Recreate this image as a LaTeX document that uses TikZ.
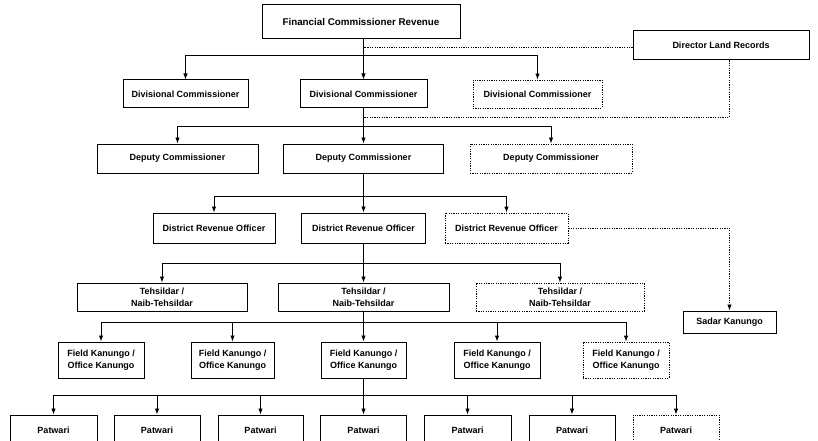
\documentclass[tikz,border=0pt]{standalone}
\usepackage{fontspec}
\setmainfont{Liberation Sans}
\usetikzlibrary{arrows.meta}
\begin{document}
\begin{tikzpicture}[x=1pt,y={(0pt,-1pt)},
  box/.style={draw, line width=1pt, align=center, inner sep=0pt,
    font=\bfseries\fontsize{9}{12}\selectfont},
  dbox/.style={box, line width=0.8pt, dash pattern=on 1.2pt off 1.2pt},
  line/.style={line width=0.9pt},
  conn/.style={line width=0.9pt, -{Latex[length=6pt,width=4.5pt]}},
  dotline/.style={line width=0.8pt, dash pattern=on 1.2pt off 1.2pt},
  dotconn/.style={dotline, -{Latex[length=6pt,width=4.5pt]}}
]
\useasboundingbox (0,0) rectangle (818,441);
\clip (0,0) rectangle (818,441);
% level 0
\node[box,minimum width=198pt,minimum height=34pt,font=\bfseries\fontsize{9.8}{12}\selectfont] (fcr) at (361,22) {Financial Commissioner Revenue};
\node[box,minimum width=176pt,minimum height=29pt] (dlr) at (721,45.5) {Director Land Records};
% level 1
\node[box,minimum width=125pt,minimum height=28pt] (dc1) at (185.5,94) {Divisional Commissioner};
\node[box,minimum width=127pt,minimum height=28pt] (dc2) at (363.5,94) {Divisional Commissioner};
\node[dbox,minimum width=129pt,minimum height=28pt] (dc3) at (537.5,94) {Divisional Commissioner};
% level 2
\node[box,minimum width=161pt,minimum height=29pt] (dep1) at (177.5,158.5) {Deputy Commissioner};
\node[box,minimum width=160pt,minimum height=29pt] (dep2) at (363.5,158.5) {Deputy Commissioner};
\node[dbox,minimum width=162pt,minimum height=29pt] (dep3) at (551,158.5) {Deputy Commissioner};
% level 3
\node[box,minimum width=122pt,minimum height=30pt] (dro1) at (214,228) {District Revenue Officer};
\node[box,minimum width=124pt,minimum height=30pt] (dro2) at (363.5,228) {District Revenue Officer};
\node[dbox,minimum width=123pt,minimum height=30pt] (dro3) at (506.5,228) {District Revenue Officer};
% level 4
\node[box,minimum width=170pt,minimum height=28pt] (teh1) at (162,297) {Tehsildar /\\Naib-Tehsildar};
\node[box,minimum width=171pt,minimum height=28pt] (teh2) at (363.5,297) {Tehsildar /\\Naib-Tehsildar};
\node[dbox,minimum width=168pt,minimum height=28pt] (teh3) at (560,297) {Tehsildar /\\Naib-Tehsildar};
\node[box,minimum width=93pt,minimum height=22pt] (sk) at (729.5,322) {Sadar Kanungo};
% level 5
\node[box,minimum width=86pt,minimum height=36pt] (fk1) at (101,360) {Field Kanungo /\\Office Kanungo};
\node[box,minimum width=83pt,minimum height=36pt] (fk2) at (232.5,360) {Field Kanungo /\\Office Kanungo};
\node[box,minimum width=85pt,minimum height=36pt] (fk3) at (363.5,360) {Field Kanungo /\\Office Kanungo};
\node[box,minimum width=86pt,minimum height=36pt] (fk4) at (497,360) {Field Kanungo /\\Office Kanungo};
\node[dbox,minimum width=86pt,minimum height=36pt] (fk5) at (626,360) {Field Kanungo /\\Office Kanungo};
% level 6
\node[box,minimum width=87pt,minimum height=30pt] (p1) at (53.5,430) {Patwari};
\node[box,minimum width=86pt,minimum height=30pt] (p2) at (157,430) {Patwari};
\node[box,minimum width=85pt,minimum height=30pt] (p3) at (260.5,430) {Patwari};
\node[box,minimum width=86pt,minimum height=30pt] (p4) at (363.5,430) {Patwari};
\node[box,minimum width=87pt,minimum height=30pt] (p5) at (467.5,430) {Patwari};
\node[box,minimum width=86pt,minimum height=30pt] (p6) at (572,430) {Patwari};
\node[dbox,minimum width=86pt,minimum height=30pt] (p7) at (676,430) {Patwari};
% bus coordinates
\coordinate (b1) at (363.5,55);
\coordinate (b2) at (363.5,126);
\coordinate (b3) at (363.5,196);
\coordinate (b4) at (363.5,263);
\coordinate (b5) at (363.5,322);
\coordinate (b6) at (363.5,395);
\coordinate (m1) at (363.5,47);
\coordinate (m2) at (363.5,117);
% level 0 -> 1
\draw[line] (dc2.north |- fcr.south) -- (b1);
\draw[conn] (b1) -- (dc2.north);
\draw[conn] (b1) -| (dc1.north);
\draw[conn] (b1) -| (dc3.north);
% level 1 -> 2
\draw[line] (dc2.south) -- (b2);
\draw[conn] (b2) -- (dep2.north);
\draw[conn] (b2) -| (dep1.north);
\draw[conn] (b2) -| (dep3.north);
% level 2 -> 3
\draw[line] (dep2.south) -- (b3);
\draw[conn] (b3) -- (dro2.north);
\draw[conn] (b3) -| (dro1.north);
\draw[conn] (b3) -| (dro3.north);
% level 3 -> 4
\draw[line] (dro2.south) -- (b4);
\draw[conn] (b4) -- (teh2.north);
\draw[conn] (b4) -| (teh1.north);
\draw[conn] (b4) -| (teh3.north);
% level 4 -> 5
\draw[line] (teh2.south) -- (b5);
\draw[conn] (b5) -- (fk3.north);
\draw[conn] (b5) -| (fk1.north);
\draw[conn] (b5) -| (fk2.north);
\draw[conn] (b5) -| (fk4.north);
\draw[conn] (b5) -| (fk5.north);
% level 5 -> 6
\draw[line] (fk3.south) -- (b6);
\draw[conn] (b6) -- (p4.north);
\draw[conn] (b6) -| (p1.north);
\draw[conn] (b6) -| (p2.north);
\draw[conn] (b6) -| (p3.north);
\draw[conn] (b6) -| (p5.north);
\draw[conn] (b6) -| (p6.north);
\draw[conn] (b6) -| (p7.north);
% dotted links
\draw[dotline] (dlr.west |- m1) -- (m1);
\draw[dotline] (dlr.south -| sk.north) |- (m2);
\draw[dotconn] (dro3.east) -| (sk.north);
\end{tikzpicture}
\end{document}
